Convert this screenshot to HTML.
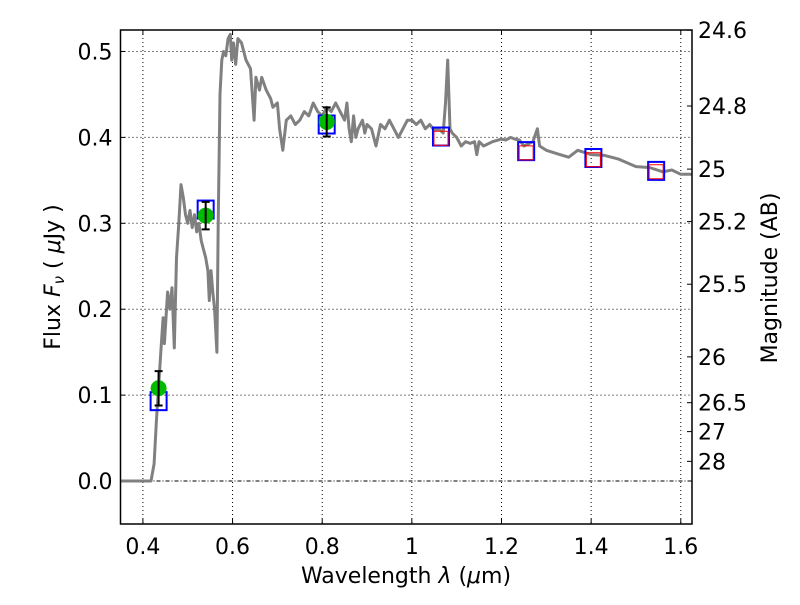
<!DOCTYPE html>
<html><head><meta charset="utf-8"><style>
body{margin:0;background:#fff}
svg text{font-family:"DejaVu Sans","Liberation Sans",sans-serif;font-size:22px;fill:#000}
</style></head><body>
<svg id="chart" width="800" height="600" xmlns="http://www.w3.org/2000/svg"></svg>
<script>
const specWave=[0.35,0.418,0.425,0.43,0.44,0.445,0.448,0.455,0.46,0.465,0.47,0.475,0.48,0.485,0.49,0.495,0.5,0.505,0.51,0.515,0.52,0.525,0.53,0.535,0.54,0.545,0.548,0.552,0.556,0.56,0.565,0.568,0.572,0.576,0.58,0.585,0.59,0.595,0.598,0.602,0.607,0.612,0.62,0.63,0.64,0.648,0.652,0.66,0.665,0.675,0.685,0.69,0.7,0.705,0.712,0.72,0.73,0.74,0.75,0.76,0.77,0.78,0.79,0.8,0.81,0.82,0.83,0.84,0.85,0.855,0.86,0.865,0.87,0.875,0.88,0.89,0.895,0.9,0.91,0.92,0.93,0.94,0.95,0.96,0.97,0.98,0.99,1.0,1.01,1.02,1.03,1.04,1.05,1.06,1.07,1.075,1.08,1.085,1.09,1.1,1.11,1.12,1.13,1.14,1.145,1.15,1.16,1.18,1.2,1.21,1.22,1.23,1.24,1.25,1.27,1.28,1.285,1.3,1.33,1.35,1.37,1.4,1.43,1.46,1.5,1.53,1.56,1.58,1.6,1.625];
const specFlux=[0,0,0.02,0.07,0.15,0.19,0.16,0.22,0.2,0.225,0.155,0.26,0.3,0.345,0.33,0.31,0.3,0.315,0.295,0.31,0.29,0.3,0.28,0.27,0.26,0.245,0.21,0.245,0.22,0.2,0.15,0.3,0.45,0.49,0.5,0.495,0.515,0.52,0.49,0.51,0.485,0.515,0.51,0.49,0.48,0.42,0.47,0.455,0.47,0.455,0.445,0.435,0.44,0.41,0.385,0.42,0.425,0.415,0.42,0.43,0.425,0.44,0.43,0.425,0.435,0.43,0.44,0.43,0.42,0.44,0.41,0.395,0.425,0.4,0.41,0.42,0.405,0.415,0.41,0.39,0.415,0.41,0.42,0.41,0.4,0.41,0.42,0.42,0.415,0.42,0.41,0.415,0.408,0.41,0.405,0.44,0.49,0.41,0.405,0.4,0.39,0.395,0.393,0.395,0.38,0.395,0.39,0.395,0.398,0.397,0.4,0.398,0.397,0.39,0.395,0.41,0.39,0.385,0.38,0.377,0.385,0.38,0.379,0.375,0.366,0.365,0.36,0.362,0.357,0.357];
const obsWave=[0.435,0.54,0.81];
const obsFlux=[0.108,0.309,0.418];
const obsErr=[0.02,0.016,0.017];
const modWave=[0.435,0.54,0.81,1.065,1.255,1.405,1.545];
const modFlux=[0.093,0.316,0.415,0.401,0.384,0.376,0.361];
const irWave=[1.065,1.255,1.405,1.545];
const irFlux=[0.399,0.382,0.374,0.360];
const xTicks=[0.4,0.6,0.8,1.0,1.2,1.4,1.6];
const xTickLabels=["0.4","0.6","0.8","1","1.2","1.4","1.6"];
const yTicks=[0,0.1,0.2,0.3,0.4,0.5];
const yTickLabels=["0.0","0.1","0.2","0.3","0.4","0.5"];
const magTicks=[24.6,24.8,25,25.2,25.5,26,26.5,27,28];
const magLabels=["24.6","24.8","25","25.2","25.5","26","26.5","27","28"];

const L=120.5,R=692,T=30,B=524,X0=0.35,X1=1.625,Y0=-0.05,Y1=0.525;
const sx=v=>L+(v-X0)/(X1-X0)*(R-L);
const sy=v=>B-(v-Y0)/(Y1-Y0)*(B-T);
const svg=document.getElementById('chart');
const NS="http://www.w3.org/2000/svg";
function mk(tag,attrs,parent){const e=document.createElementNS(NS,tag);for(const k in attrs)e.setAttribute(k,attrs[k]);(parent||svg).appendChild(e);return e;}

const grid=mk('g',{});


xTicks.forEach((t,i)=>{
  const x=sx(t);
  mk('line',{x1:x,x2:x,y1:T,y2:B,stroke:'#000','stroke-width':1,'stroke-dasharray':'1,3'},grid);
  mk('line',{x1:x,x2:x,y1:B,y2:B-5,stroke:'#000'},grid);
  mk('line',{x1:x,x2:x,y1:T,y2:T+5,stroke:'#000'},grid);
  const tx=mk('text',{x:x,y:B+30,'text-anchor':'middle'});
  tx.textContent=xTickLabels[i];
  
  
});
yTicks.forEach((t,i)=>{
  const y=sy(t);
  mk('line',{x1:L,x2:R,y1:y,y2:y,stroke:'#000','stroke-width':1,'stroke-dasharray':t===0?'4,2,1,2':'1,3'},grid);
  mk('line',{x1:L,x2:L+5,y1:y,y2:y,stroke:'#000'},grid);
  const tx=mk('text',{x:L-8,y:y+8,'text-anchor':'end'});
  tx.textContent=yTickLabels[i];
  
  
});
magTicks.forEach((m,i)=>{
  const f=Math.pow(10,(23.9-m)/2.5);
  const y=sy(f);
  mk('line',{x1:R,x2:R-5,y1:y,y2:y,stroke:'#000'},grid);
  const tx=mk('text',{x:R+6,y:y+8,'text-anchor':'start'});
  tx.textContent=magLabels[i];
  
  
});

const pts=specWave.map((w,i)=>sx(w).toFixed(1)+','+sy(specFlux[i]).toFixed(1)).join(' ');
const sp=mk('polyline',{points:pts,fill:'none',stroke:'#808080','stroke-width':3,'stroke-linejoin':'round'});



modWave.forEach((w,i)=>{
  const r=mk('rect',{x:sx(w)-8,y:sy(modFlux[i])-9,width:16,height:18,fill:'none',stroke:'#0000ff','stroke-width':2});
  
  
});
irWave.forEach((w,i)=>{
  const r=mk('rect',{x:sx(w)-7,y:sy(irFlux[i])-7,width:14,height:14,fill:'none',stroke:'#ff0000','stroke-width':1});
  
  
});
obsWave.forEach((w,i)=>{
  const c=mk('circle',{cx:sx(w),cy:sy(obsFlux[i]),r:8,fill:'#00bb00'});
  
  
  const x=sx(w),y1=sy(obsFlux[i]+obsErr[i]),y2=sy(obsFlux[i]-obsErr[i]);
  const eb=mk('path',{d:`M${x},${y1}V${y2}M${x-4},${y1}H${x+4}M${x-4},${y2}H${x+4}`,stroke:'#000','stroke-width':2,fill:'none'});
  
  
});

const frame=mk('rect',{x:L,y:T,width:R-L,height:B-T,fill:'none',stroke:'#000','stroke-width':1.5});


</script>
<svg style="position:absolute;left:0;top:0" width="800" height="600" xmlns="http://www.w3.org/2000/svg">
<text x="406" y="583" text-anchor="middle" style="font-family:'DejaVu Sans',sans-serif;font-size:22px">Wavelength  <tspan font-style="italic">λ</tspan> (<tspan font-style="italic">μ</tspan>m)</text>
<text transform="translate(60,277) rotate(-90)" text-anchor="middle" style="font-family:'DejaVu Sans',sans-serif;font-size:22px">Flux  <tspan font-style="italic">F<tspan font-size="15" dy="4">ν</tspan></tspan><tspan dy="-4">  ( </tspan><tspan font-style="italic">μ</tspan>Jy )</text>
<text transform="translate(777,278) rotate(-90)" text-anchor="middle" style="font-family:'DejaVu Sans',sans-serif;font-size:22px">Magnitude (AB)</text>
</svg>
</body></html>
